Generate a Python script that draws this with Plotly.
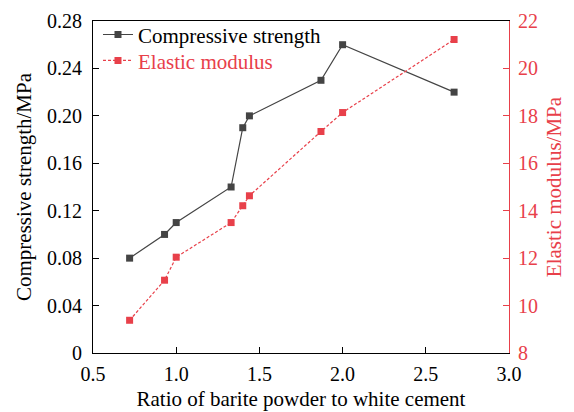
import plotly.graph_objects as go

ratio = [0.72, 0.93, 1.0, 1.33, 1.40, 1.44, 1.87, 2.0, 2.67]
compressive = [0.08, 0.10, 0.11, 0.14, 0.19, 0.20, 0.23, 0.26, 0.22]
elastic = [9.38, 11.07, 12.04, 13.5, 14.21, 14.63, 17.34, 18.14, 21.22]

gray = "#444444"
red = "#e8404a"
font = "Liberation Serif"
fs = 20
tfs = 21

fig = go.Figure()
fig.add_trace(go.Scatter(x=ratio, y=compressive, name="Compressive strength",
                         mode="lines+markers", legend="legend",
                         line=dict(color=gray, width=1.2),
                         marker=dict(symbol="square", size=7, color=gray)))
fig.add_trace(go.Scatter(x=ratio, y=elastic, name="Elastic modulus", yaxis="y2",
                         mode="lines+markers", legend="legend2",
                         line=dict(color=red, width=1.2, dash="3px,2px"),
                         marker=dict(symbol="square", size=7, color=red)))

fig.update_layout(
    width=574, height=412,
    margin=dict(l=93, r=65, t=21, b=59, autoexpand=False),
    plot_bgcolor="white", paper_bgcolor="white",
    font=dict(family=font, size=fs, color="black"),
    showlegend=True,
    legend=dict(x=0.012, y=1.02, xanchor="left", yanchor="top",
                bgcolor="rgba(0,0,0,0)", font=dict(size=21, family=font, color="black"),
                itemwidth=30),
    legend2=dict(x=0.012, y=0.942, xanchor="left", yanchor="top",
                 bgcolor="rgba(0,0,0,0)", font=dict(size=21, family=font, color=red),
                 itemwidth=30),
    xaxis=dict(range=[0.5, 3.0], tickvals=[0.5, 1.0, 1.5, 2.0, 2.5, 3.0],
               ticktext=["0.5", "1.0", "1.5", "2.0", "2.5", "3.0"],
               ticks="inside", ticklen=6, tickcolor="black", automargin=False,
               showline=True, linecolor="black", linewidth=1, mirror=True,
               showgrid=False, zeroline=False, ticklabelstandoff=3,
               title=dict(text="Ratio of barite powder to white cement", standoff=7,
                          font=dict(size=tfs))),
    yaxis=dict(range=[0, 0.28], tickvals=[0, 0.04, 0.08, 0.12, 0.16, 0.20, 0.24, 0.28],
               ticktext=["0", "0.04", "0.08", "0.12", "0.16", "0.20", "0.24", "0.28"],
               ticks="inside", ticklen=6, tickcolor="black", automargin=False,
               showline=True, linecolor="black", linewidth=1,
               showgrid=False, zeroline=False, ticklabelstandoff=6,
               title=dict(text="Compressive strength/MPa", standoff=9,
                          font=dict(size=tfs))),
    yaxis2=dict(range=[8, 22], tickvals=[8, 10, 12, 14, 16, 18, 20, 22],
                overlaying="y", side="right", automargin=False,
                ticks="inside", ticklen=6, tickcolor=red,
                tickfont=dict(color=red, size=fs),
                showline=True, linecolor=red, linewidth=1,
                showgrid=False, zeroline=False, ticklabelstandoff=4,
                title=dict(text="Elastic modulus/MPa", standoff=9,
                           font=dict(color=red, size=tfs))),
)

fig.write_html("out.html")
